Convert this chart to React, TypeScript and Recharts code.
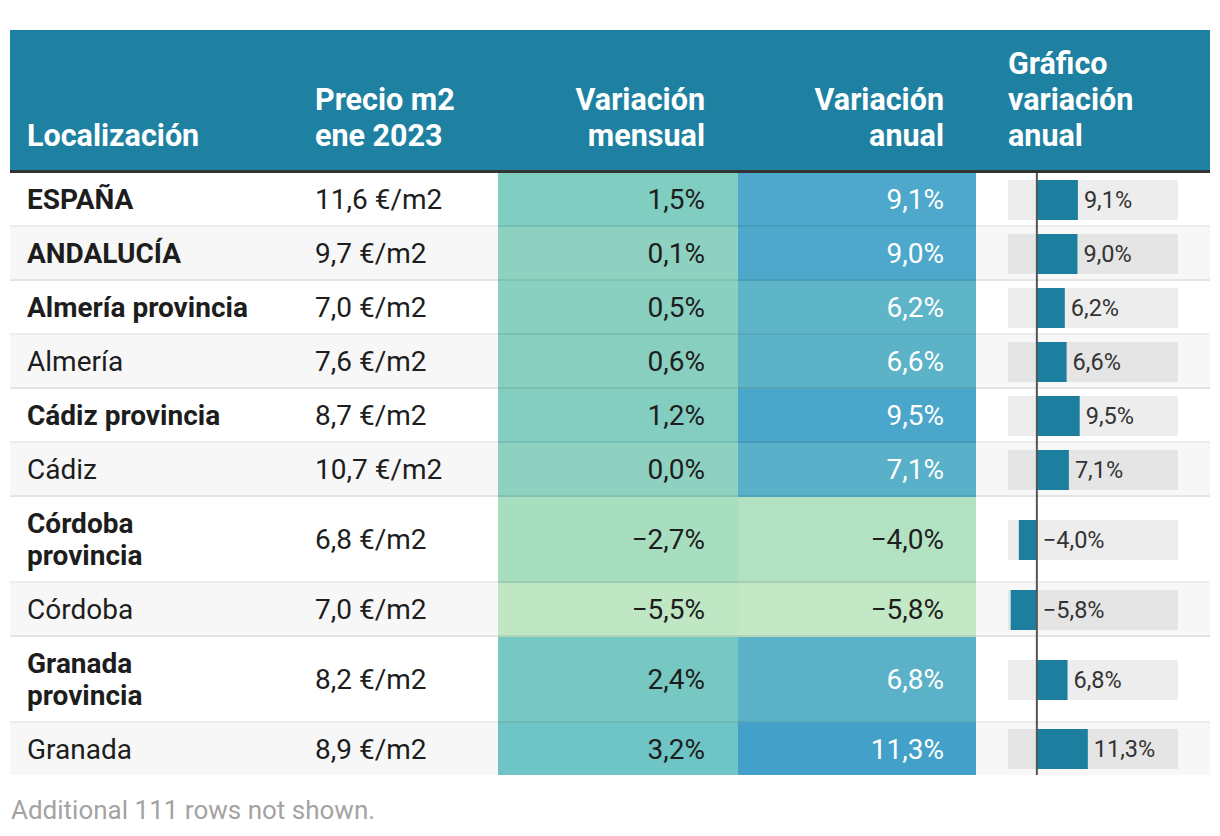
import React from 'react'
import { BarChart, Bar, XAxis, YAxis, ReferenceLine, LabelList, ResponsiveContainer } from 'recharts'

// datos de la tabla
const localizaciones = [
  'ESPAÑA',
  'ANDALUCÍA',
  'Almería provincia',
  'Almería',
  'Cádiz provincia',
  'Cádiz',
  'Córdoba provincia',
  'Córdoba',
  'Granada provincia',
  'Granada',
]
const esAgregado = [true, true, true, false, true, false, true, false, true, false]
const precioM2 = [11.6, 9.7, 7.0, 7.6, 8.7, 10.7, 6.8, 7.0, 8.2, 8.9]
const variacionMensual = [1.5, 0.1, 0.5, 0.6, 1.2, 0.0, -2.7, -5.5, 2.4, 3.2]
const variacionAnual = [9.1, 9.0, 6.2, 6.6, 9.5, 7.1, -4.0, -5.8, 6.8, 11.3]
const cabeceras = [
  'Localización',
  'Precio m2\nene 2023',
  'Variación\nmensual',
  'Variación\nanual',
  'Gráfico\nvariación\nanual',
]
const filasOcultas = 111

const FONT = 'Roboto, "Noto Sans", sans-serif'
const HEADER_BG = '#1f81a1'
const BAR_COLOR = '#1d7fa0'
const TEXT = '#1d1d1d'
const ANCHOS = [288, 200, 240, 238, 234]
const DOMINIO_BARRAS: [number, number] = [-6.4, 31.3]

// escala de color compartida por las dos columnas de variación
const paradas: [number, number[]][] = [
  [-6, [196, 233, 197]],
  [-2.7, [168, 222, 192]],
  [0, [143, 209, 192]],
  [1.5, [128, 205, 193]],
  [3.2, [111, 196, 197]],
  [6.5, [93, 179, 200]],
  [9.3, [76, 167, 203]],
  [11.3, [67, 160, 200]],
]

const colorCelda = (v: number) => {
  if (v <= paradas[0][0]) return paradas[0][1]
  for (let i = 1; i < paradas.length; i++) {
    const [v1, c1] = paradas[i]
    const [v0, c0] = paradas[i - 1]
    if (v <= v1) {
      const t = (v - v0) / (v1 - v0)
      return c0.map((c, k) => Math.round(c + (c1[k] - c) * t))
    }
  }
  return paradas[paradas.length - 1][1]
}

const rgb = (c: number[]) => `rgb(${c[0]},${c[1]},${c[2]})`
const textoSobre = (c: number[]) => (0.299 * c[0] + 0.587 * c[1] + 0.114 * c[2] < 163 ? '#ffffff' : TEXT)

const fmt = (v: number) => (v < 0 ? '\u2212' : '') + Math.abs(v).toFixed(1).replace('.', ',')

const filas = localizaciones.map((nombre, i) => ({
  nombre,
  agregado: esAgregado[i],
  precio: precioM2[i],
  mensual: variacionMensual[i],
  anual: variacionAnual[i],
}))

const EtiquetaBarra = (props: any) => {
  const x = Number(props.x)
  const w = Number(props.width)
  const y = Number(props.y)
  const h = Number(props.height)
  return (
    <text
      x={Math.max(x, x + w) + 6}
      y={y + h / 2}
      dy="0.36em"
      fontSize={23.5}
      fill="#333"
      fontFamily={FONT}
    >
      {fmt(Number(props.value))}%
    </text>
  )
}

const MiniBarra = ({ fila }: { fila: (typeof filas)[number] }) => (
  <ResponsiveContainer width="100%" height="100%">
    <BarChart
      data={[fila]}
      layout="vertical"
      margin={{ top: 0, right: 32, bottom: 0, left: 32 }}
    >
      <XAxis type="number" domain={DOMINIO_BARRAS} hide />
      <YAxis type="category" dataKey="nombre" hide />
      <Bar
        dataKey="anual"
        barSize={40}
        fill={BAR_COLOR}
        background={{ fill: 'rgba(0,0,0,0.07)' }}
        isAnimationActive={false}
      >
        <LabelList dataKey="anual" content={EtiquetaBarra} />
      </Bar>
      <ReferenceLine x={0} stroke="#555" strokeWidth={2} />
    </BarChart>
  </ResponsiveContainer>
)

export default function App() {
  const celda = (i: number, extra: React.CSSProperties, ultima: boolean): React.CSSProperties => ({
    width: ANCHOS[i],
    boxSizing: 'border-box',
    display: 'flex',
    alignItems: 'center',
    paddingTop: 11,
    paddingBottom: 9,
    borderBottom: ultima ? 'none' : '2px solid rgba(0,0,0,0.075)',
    ...extra,
  })

  return (
    <div
      style={{
        position: 'absolute',
        left: 0,
        top: 0,
        width: 1220,
        height: 836,
        background: '#fff',
        fontFamily: FONT,
        color: TEXT,
      }}
    >
      <div style={{ position: 'absolute', left: 10, top: 30, width: 1200 }}>
        {/* cabecera */}
        <div
          style={{
            display: 'flex',
            height: 143,
            boxSizing: 'border-box',
            background: HEADER_BG,
            borderBottom: '3px solid #333',
            color: '#fff',
            fontWeight: 700,
            fontSize: 30.5,
            lineHeight: '36px',
          }}
        >
          {cabeceras.map((t, i) => (
            <div
              key={i}
              style={{
                width: ANCHOS[i],
                boxSizing: 'border-box',
                display: 'flex',
                alignItems: 'flex-end',
                justifyContent: i === 2 || i === 3 ? 'flex-end' : 'flex-start',
                textAlign: i === 2 || i === 3 ? 'right' : 'left',
                whiteSpace: 'pre-line',
                paddingLeft: i === 4 ? 32 : i < 2 ? 17 : 0,
                paddingRight: i === 2 ? 33 : i === 3 ? 32 : 0,
                paddingBottom: 16,
              }}
            >
              {t}
            </div>
          ))}
        </div>

        {/* filas */}
        {filas.map((f, r) => {
          const ultima = r === filas.length - 1
          const fondo = r % 2 === 1 ? '#f7f7f7' : '#ffffff'
          const cm = colorCelda(f.mensual)
          const ca = colorCelda(f.anual)
          return (
            <div
              key={f.nombre}
              style={{ display: 'flex', background: fondo, fontSize: 28, lineHeight: '32px' }}
            >
              <div
                style={celda(0, { paddingLeft: 17, paddingRight: 47, fontWeight: f.agregado ? 700 : 400 }, ultima)}
              >
                {f.nombre}
              </div>
              <div style={celda(1, { paddingLeft: 17 }, ultima)}>{fmt(f.precio)} €/m2</div>
              <div
                style={celda(
                  2,
                  { justifyContent: 'flex-end', paddingRight: 33, background: rgb(cm), color: textoSobre(cm) },
                  ultima
                )}
              >
                {fmt(f.mensual)}%
              </div>
              <div
                style={celda(
                  3,
                  { justifyContent: 'flex-end', paddingRight: 32, background: rgb(ca), color: textoSobre(ca) },
                  ultima
                )}
              >
                {fmt(f.anual)}%
              </div>
              <div style={{ ...celda(4, {}, ultima), position: 'relative' }}>
                <div
                  style={{
                    position: 'absolute',
                    left: 0,
                    right: 0,
                    top: 0,
                    bottom: ultima ? 0 : -2,
                  }}
                >
                  <MiniBarra fila={f} />
                </div>
              </div>
            </div>
          )
        })}
      </div>

      <div
        style={{
          position: 'absolute',
          left: 11,
          top: 795,
          fontSize: 26,
          lineHeight: '30px',
          color: '#a3a3a3',
        }}
      >
        Additional {filasOcultas} rows not shown.
      </div>
    </div>
  )
}
